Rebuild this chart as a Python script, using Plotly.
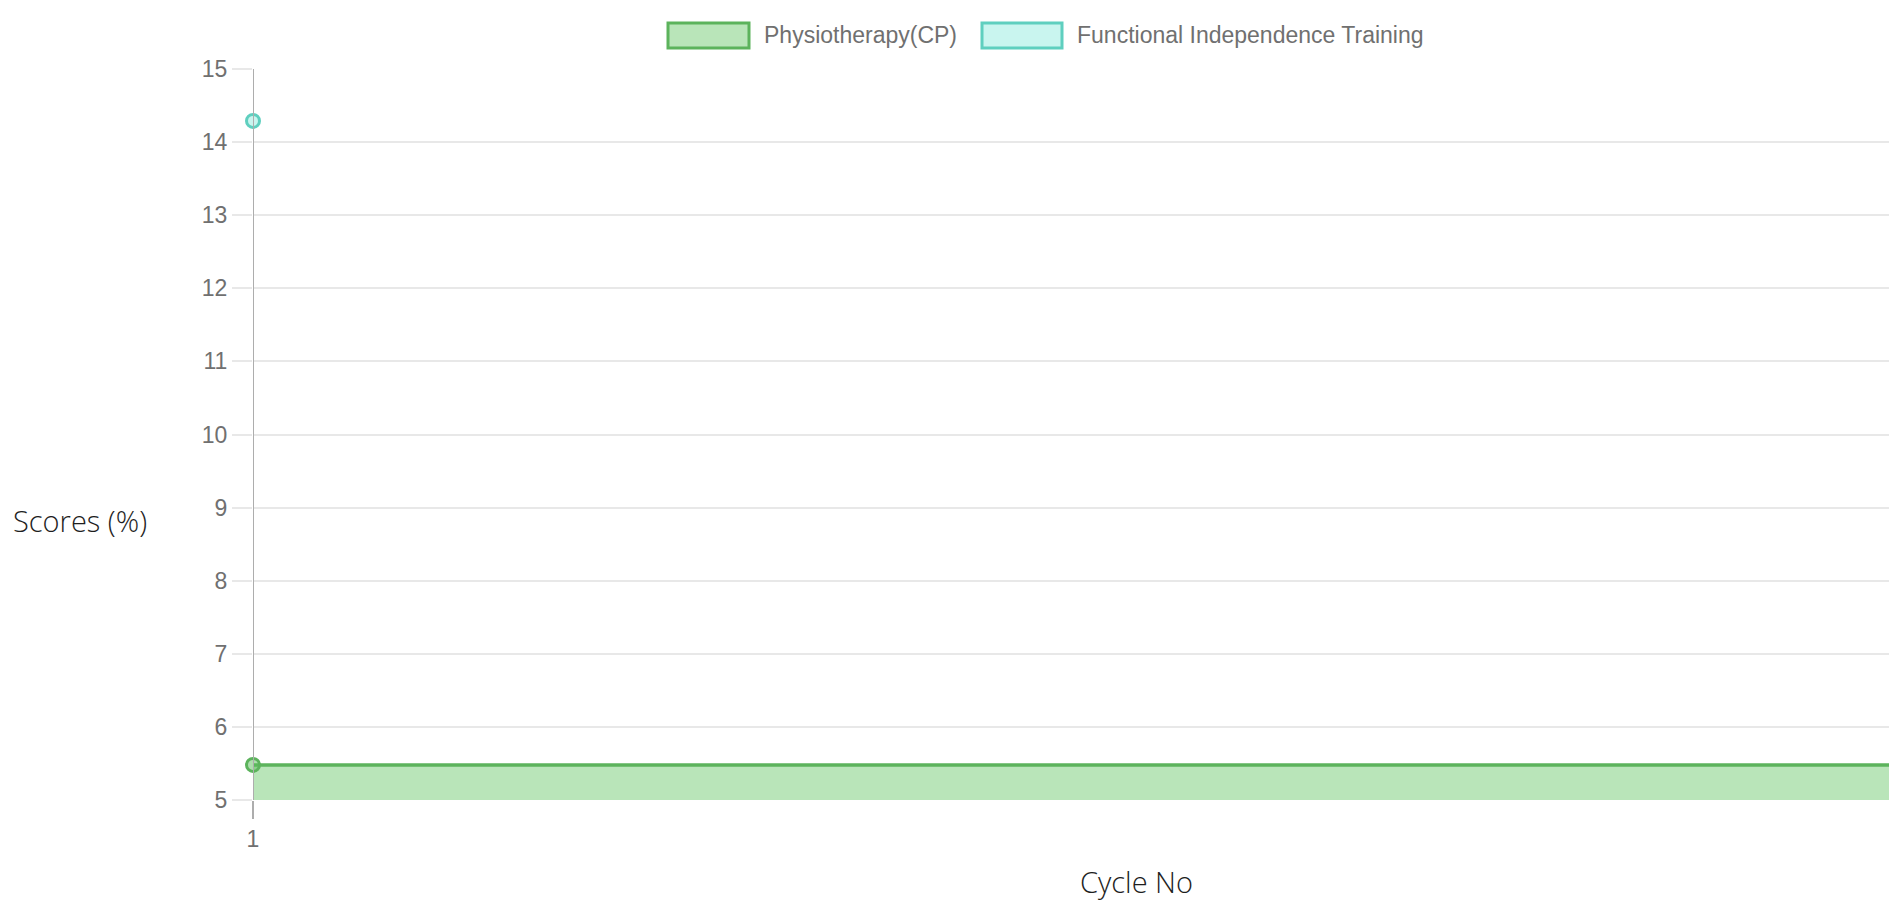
import plotly.graph_objects as go

# ---- data ----
cycles = [1]
physio = [5.48]
fit = [14.29]
series_names = ["Physiotherapy(CP)", "Functional Independence Training"]
y_ticks = list(range(5, 16))
x_end = 2  # right end of the visible category axis

# ---- layout constants (pixels) ----
W, H = 1889, 903
L, R, T, B = 253, 0, 69, 103
PW, PH = W - L - R, H - T - B

def px(x):
    return (x - L) / PW

def py(y):
    return (H - B - y) / PH

green_line = "#5cb35c"
green_fill = "rgba(92,195,92,0.43)"
teal_line = "#5fcfbf"
teal_fill = "#c9f5ef"
grid = "#e8e8e8"
axis_col = "#adadad"
txt = "#707070"
tick_font = dict(family="Liberation Sans, Arial", size=23, color=txt)

fig = go.Figure()

# physiotherapy area, carried across the axis
fig.add_trace(go.Scatter(
    x=[cycles[0], x_end], y=[physio[0], physio[0]],
    mode="lines", line=dict(color=green_line, width=3.5),
    fill="tozeroy", fillcolor=green_fill,
    showlegend=False, hoverinfo="skip"))
fig.add_trace(go.Scatter(
    x=cycles, y=physio, mode="markers", name=series_names[0],
    marker=dict(size=13, color="rgba(92,190,92,0.5)", line=dict(color=green_line, width=3)),
    showlegend=False, cliponaxis=False))
fig.add_trace(go.Scatter(
    x=cycles, y=fit, mode="markers", name=series_names[1],
    marker=dict(size=13, color=teal_fill, line=dict(color=teal_line, width=3)),
    showlegend=False, cliponaxis=False))

shapes = []
annotations = []
# custom legend (Chart.js style boxes)
legend = [
    (series_names[0], 668, 749, green_fill, green_line, 762),
    (series_names[1], 982, 1062, teal_fill, teal_line, 1075),
]
for name, x0, x1, fc, lc, tx in legend:
    shapes.append(dict(type="rect", xref="paper", yref="paper",
                       x0=px(x0), x1=px(x1), y0=py(48), y1=py(23),
                       fillcolor=fc, line=dict(color=lc, width=3)))
    annotations.append(dict(text=name, xref="paper", yref="paper",
                            x=px(tx), y=py(35), xanchor="left", yanchor="middle",
                            showarrow=False,
                            font=dict(family="Liberation Sans, Arial", size=23, color=txt)))

title_font = dict(family="Open Sans", size=29, color="#1e1e1e", weight=300)
annotations.append(dict(text="Scores (%)", xref="paper", yref="paper",
                        x=px(11), y=py(520), xanchor="left", yanchor="middle",
                        showarrow=False, font=title_font))
annotations.append(dict(text="Cycle No", xref="paper", yref="paper",
                        x=px(1136), y=py(881), xanchor="center", yanchor="middle",
                        showarrow=False, font=title_font))

# vertical axis border at x = 1
shapes.append(dict(type="line", xref="x", yref="paper", x0=cycles[0], x1=cycles[0],
                   y0=0, y1=1, line=dict(color=axis_col, width=2), layer="above"))

fig.update_layout(
    width=W, height=H,
    margin=dict(l=L, r=R, t=T, b=B, pad=0),
    paper_bgcolor="white", plot_bgcolor="white",
    showlegend=False,
    shapes=shapes, annotations=annotations,
    xaxis=dict(range=[cycles[0], x_end], tickvals=cycles, ticktext=[str(c) for c in cycles],
               showgrid=False, zeroline=False, showline=False,
               ticks="outside", ticklen=18, tickcolor=axis_col, tickwidth=2,
               tickfont=tick_font),
    yaxis=dict(range=[5, 15], tickvals=y_ticks,
               showgrid=True, gridcolor=grid, gridwidth=2, zeroline=False,
               showline=False,
               ticks="outside", ticklen=20, tickcolor=grid, tickwidth=2,
               ticklabelstandoff=0,
               tickfont=tick_font),
)

fig.write_html(
    "out.html",
    config={"displayModeBar": False},
    post_script="document.body.style.margin='0';document.body.style.overflow='hidden';",
)
